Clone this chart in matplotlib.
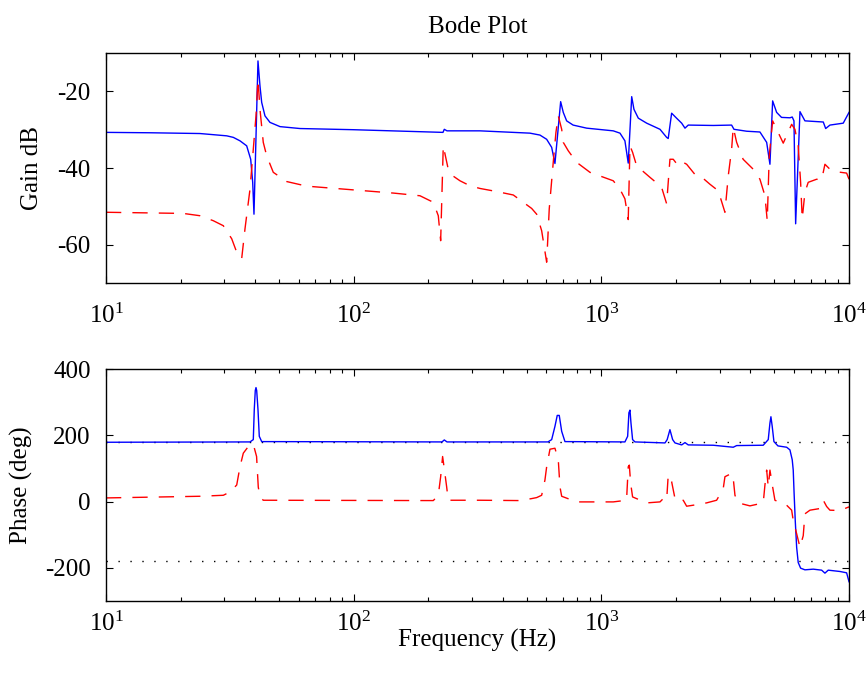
import matplotlib
matplotlib.use("Agg")
import matplotlib.pyplot as plt

# ---- data (frequency in Hz) ----
# gain, solid blue trace
f_gain_a = [10, 15.05, 23.96, 30.72, 32.66, 34.75, 36.98, 38.39, 39.11, 39.58,
            41.08, 41.85, 42.52, 43.84, 45.93, 50.41, 60.73, 99.4, 229.4, 232.2,
            238.1, 323.6, 514.8, 565, 601.4, 630.1, 649.6, 685, 701.9, 724.2,
            769.2, 872.4, 1117, 1189, 1245, 1284, 1326, 1354, 1410, 1524,
            1725, 1835, 1862, 1922, 2012, 2110, 2176, 2243, 2831, 3357,
            3431, 3861, 4368, 4650, 4794, 4916, 5102, 5339, 5773, 5898,
            5993, 6088, 6337, 6637, 7871, 8049, 8374, 9476, 10000]
gain_a = [-30.7, -30.8, -31.0, -31.6, -32.0, -32.9, -34.2, -37.7, -43.7, -52.0,
          -12.1, -18.6, -22.9, -26.4, -28.1, -29.2, -29.7, -30.0, -30.7, -29.9,
          -30.3, -30.3, -30.9, -31.4, -32.5, -34.6, -38.8, -22.7, -25.5, -27.7,
          -28.8, -29.6, -30.3, -30.9, -32.9, -38.7, -21.4, -24.7, -27.0, -28.3,
          -29.9, -32.0, -32.3, -25.7, -27.0, -28.3, -29.6, -28.8, -28.9, -28.8,
          -29.9, -30.4, -30.6, -33.3, -39.0, -22.5, -25.5, -26.8, -26.9, -26.7,
          -27.7, -54.5, -25.3, -27.7, -28.0, -29.7, -28.8, -28.3, -25.5]

# gain, dashed red trace
f_gain_b = [10, 20.51, 23.96, 27.12, 29.76, 32.18, 33.71, 35.3, 36.41, 38.14,
            39.33, 40.33, 41.08, 41.85, 43.15, 44.54, 47.36, 53.64, 64.6, 96.6,
            144.5, 185.2, 209.6, 219.6, 224.5, 230.0, 240.9, 248.6, 268.6, 294.8,
            323.6, 377.8, 441.0, 523.1, 548.0, 574.1, 601.4, 616.1, 639.4, 655.6,
            670, 691.6, 701.9, 735.3, 794.9, 899.5, 1117, 1189, 1245, 1284,
            1305, 1337, 1388, 1571, 1697, 1751, 1835, 1892, 1951, 2044,
            2141, 2210, 2425, 2579, 2744, 2965, 3155, 3254, 3357, 3408,
            3518, 3736, 4105, 4368, 4576, 4675, 4763, 4916, 5102, 5425,
            5866, 6048, 6235, 6376, 6472, 6637, 6843, 7400, 7752, 7993,
            8374, 9020, 9779, 10000]
gain_b = [-51.5, -51.8, -52.4, -53.7, -55.0, -58.4, -61.9, -63.6, -55.8, -45.5,
          -35.1, -26.4, -16.9, -24.7, -33.3, -36.8, -41.1, -43.5, -44.7, -45.6,
          -46.5, -47.2, -48.9, -52.4, -58.9, -34.2, -40.3, -41.8, -43.3, -44.6,
          -45.3, -46.1, -47.0, -50.5, -52.0, -56.3, -64.5, -50.6, -38.5, -30.7,
          -26.4, -29.9, -33.3, -35.5, -38.5, -41.1, -43.3, -45.5, -48.0, -53.4,
          -34.2, -35.9, -39.4, -42.4, -44.2, -45.0, -49.3, -37.7, -37.7, -39.4,
          -38.5, -39.0, -42.2, -42.7, -44.2, -45.9, -51.5, -42.0, -35.1, -29.4,
          -33.3, -37.7, -40.3, -42.9, -47.2, -53.7, -36.8, -27.7, -29.9, -33.5,
          -28.6, -29.9, -34.2, -43.7, -53.2, -46.3, -43.7, -42.9, -43.1, -39.0,
          -40.3, -41.0, -41.3, -42.9]

# phase, solid blue trace
f_phase_a = [10, 38.14, 39.33, 39.69, 40.06, 40.33, 40.59, 41.08, 41.58, 42.52,
             227.3, 232.2, 238.1, 608.6, 630.1, 649.6, 663.6, 676.1, 691.6, 712.9,
             1245, 1277, 1292, 1305, 1317, 1337, 1367, 1807, 1844, 1892,
             1940, 1983, 2110, 2176, 2243, 2831, 3408, 3518, 4504, 4719,
             4794, 4838, 4896, 4975, 5164, 5599, 5773, 5898, 5953, 6002,
             6065, 6145, 6235, 6376, 6637, 7171, 7752, 7993, 8241, 9190,
             9779, 10000]
phase_a = [179, 180, 187, 278, 335, 344, 335, 278, 197, 181,
           180, 186, 180, 180, 187, 227, 260, 260, 212, 181,
           180, 197, 268, 276, 237, 187, 180, 177, 187, 217,
           187, 177, 171, 178, 171, 170, 164, 169, 170, 187,
           237, 256, 227, 181, 168, 164, 156, 126, 95, 24,
           -57, -138, -184, -201, -206, -204, -207, -216, -207, -211,
           -215, -242]

# phase, dashed red trace
f_phase_b = [10, 23.96, 29.76, 31.67, 33.71, 34.75, 35.84, 37.54, 39.33, 40.55,
             41.19, 41.85, 43.15, 209.6, 219.6, 224.5, 228.6, 231.6, 237.4, 240.9,
             323.6, 469.3, 523.1, 548.0, 574.1, 591.9, 601.4, 620.2, 649.6, 670,
             680.7, 691.6, 794.9, 1117, 1264, 1284, 1297, 1313, 1337, 1524,
             1725, 1778, 1835, 1862, 1892, 1922, 1983, 2077, 2141, 2210,
             2350, 2660, 2920, 3105, 3155, 3254, 3357, 3408, 3463, 3570,
             3981, 4504, 4576, 4650, 4719, 4794, 4916, 5021, 5599, 5866,
             5953, 6145, 6337, 6533, 6637, 6953, 7630, 7871, 8123, 8374,
             9190, 10000]
phase_b = [11, 16, 19, 29, 50, 105, 146, 166, 173, 136,
           44, 14, 4, 3, 19, 75, 136, 105, 44, 4,
           4, 3, 9, 12, 19, 65, 105, 158, 161, 126,
           44, 16, -1, -1, 4, 105, 110, 55, 14, -4,
           -1, 9, 4, 80, 65, 60, 9, -1, 4, -14,
           -11, -4, 4, 39, 75, 80, 85, 70, 19, -4,
           -13, -4, 50, 95, 44, 95, 44, 4, -11, -26,
           -57, -97, -138, -103, -37, -26, -21, 4, -15, -26,
           -27, -16]

phase_refs = [180, -180]

plt.rcParams['font.family'] = ['Liberation Serif', 'DejaVu Serif']
plt.rcParams['font.size'] = 18
plt.rcParams['mathtext.fontset'] = 'custom'
plt.rcParams['mathtext.rm'] = 'Liberation Serif'
plt.rcParams['mathtext.default'] = 'regular'
plt.rcParams['axes.unicode_minus'] = False

fig = plt.figure(figsize=(8.66, 6.77), dpi=100)
ax1 = fig.add_axes([0.1224, 0.5815, 0.858, 0.3404])
ax2 = fig.add_axes([0.1224, 0.1123, 0.858, 0.3426])

dash = (0, (11, 8))
dots = (0, (1, 7.6))

ax1.semilogx(f_gain_a, gain_a, color='#0000ff', lw=1.0)
ax1.semilogx(f_gain_b, gain_b, color='#ff0000', lw=1.0, linestyle=dash)

for p in phase_refs:
    ax2.semilogx([10, 10000], [p, p], color='black', lw=1.0, linestyle=dots)
ax2.semilogx(f_phase_a, phase_a, color='#0000ff', lw=1.0)
ax2.semilogx(f_phase_b, phase_b, color='#ff0000', lw=1.0, linestyle=dash)

ax1.set_xlim(10, 10000)
ax1.set_ylim(-70, -10)
ax1.set_yticks([-60, -40, -20])
ax2.set_xlim(10, 10000)
ax2.set_ylim(-300, 400)
ax2.set_yticks([-200, 0, 200, 400])

for ax in (ax1, ax2):
    for s in ax.spines.values():
        s.set_linewidth(1.0)
    ax.tick_params(which='both', direction='in', top=True, right=True, width=0.8)
    ax.tick_params(which='major', length=5)
    ax.tick_params(which='minor', length=3)
    ax.tick_params(axis='y', pad=11)

ax1.tick_params(axis='x', which='both', pad=15)
ax2.tick_params(axis='x', which='both', pad=8)

ax1.set_title('Bode Plot', pad=14, fontsize=18)
ax1.set_ylabel('Gain dB')
ax1.yaxis.set_label_coords(-0.085, 0.5)
ax2.set_ylabel('Phase (deg)')
ax2.yaxis.set_label_coords(-0.098, 0.5)
ax2.set_xlabel('Frequency (Hz)')
ax2.xaxis.set_label_coords(0.5, -0.122)

fig.savefig('out.png', dpi=100)
